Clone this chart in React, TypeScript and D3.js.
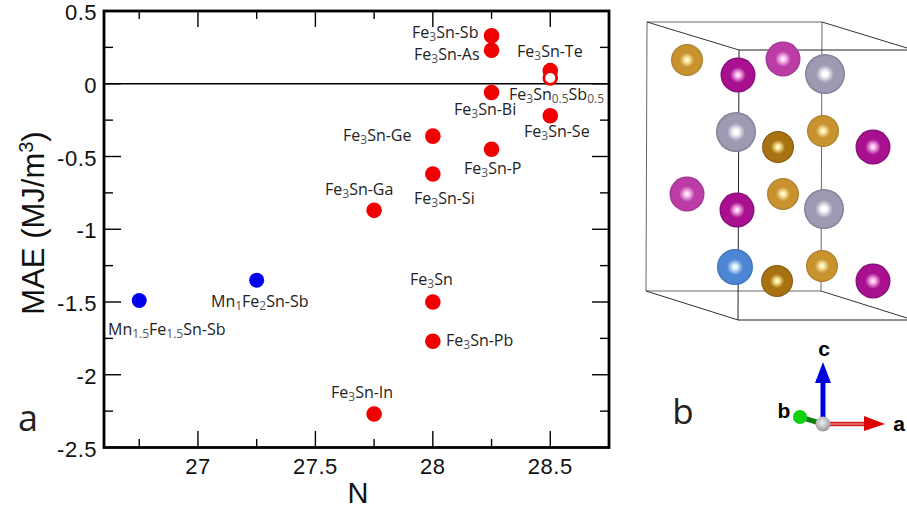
import React from "react";
import * as d3 from "d3";

const redN = [28.25, 28.25, 28.5, 28.5, 28.25, 28.5, 28, 28.25, 28, 27.75, 28, 28, 27.75];
const redMAE = [0.33, 0.23, 0.09, 0.04, -0.06, -0.22, -0.36, -0.45, -0.62, -0.87, -1.5, -1.77, -2.27];
const blueN = [26.75, 27.25];
const blueMAE = [-1.49, -1.35];
const xMajor = [27, 27.5, 28, 28.5];
const xMinor = [26.75, 27.25, 27.75, 28.25];
const yMajor = [0.5, 0, -0.5, -1, -1.5, -2, -2.5];
const yMinor = [0.25, -0.25, -0.75, -1.25, -1.75, -2.25];

// label: [text, sub, text, sub, ...] runs; odd entries are subscripts
const labels: { runs: string[]; x: number; y: number }[] = [
  { runs: ["Fe", "3", "Sn-Sb"], x: 412, y: 38 },
  { runs: ["Fe", "3", "Sn-As"], x: 414, y: 60 },
  { runs: ["Fe", "3", "Sn-Te"], x: 517, y: 57 },
  { runs: ["Fe", "3", "Sn", "0.5", "Sb", "0.5"], x: 509, y: 100 },
  { runs: ["Fe", "3", "Sn-Bi"], x: 454, y: 115 },
  { runs: ["Fe", "3", "Sn-Se"], x: 524, y: 137 },
  { runs: ["Fe", "3", "Sn-Ge"], x: 343, y: 141 },
  { runs: ["Fe", "3", "Sn-P"], x: 464, y: 174 },
  { runs: ["Fe", "3", "Sn-Si"], x: 414, y: 204 },
  { runs: ["Fe", "3", "Sn-Ga"], x: 325, y: 195 },
  { runs: ["Fe", "3", "Sn"], x: 410, y: 285 },
  { runs: ["Fe", "3", "Sn-Pb"], x: 446, y: 346 },
  { runs: ["Fe", "3", "Sn-In"], x: 331, y: 398 },
  { runs: ["Mn", "1", "Fe", "2", "Sn-Sb"], x: 211, y: 307 },
  { runs: ["Mn", "1.5", "Fe", "1.5", "Sn-Sb"], x: 108, y: 335 },
];

// crystal panel
const atoms: { x: number; y: number; r: number; c: string }[] = [
  { x: 687, y: 60, r: 16, c: "gold" },
  { x: 783, y: 59, r: 17.5, c: "pinkL" },
  { x: 738, y: 75, r: 17.5, c: "pink" },
  { x: 825, y: 74, r: 20, c: "gray" },
  { x: 736, y: 132, r: 20, c: "gray" },
  { x: 823, y: 131, r: 16, c: "gold" },
  { x: 778, y: 147, r: 16, c: "goldD" },
  { x: 873, y: 147, r: 17.5, c: "pink" },
  { x: 687, y: 194, r: 17.5, c: "pinkL" },
  { x: 783, y: 194, r: 16, c: "gold" },
  { x: 737, y: 210, r: 17.5, c: "pink" },
  { x: 824, y: 209, r: 20, c: "gray" },
  { x: 735, y: 267, r: 18, c: "blue" },
  { x: 822, y: 266, r: 16, c: "gold" },
  { x: 777, y: 281, r: 16, c: "goldD" },
  { x: 873, y: 281, r: 17.5, c: "pink" },
];
const atomColors: Record<string, [string, string, string]> = {
  gold: ["#fff2b0", "#c8922e", "#a07a30"],
  goldD: ["#fff0a0", "#a87210", "#7a5410"],
  pink: ["#ffc0f0", "#a8108f", "#7a0c70"],
  pinkL: ["#ffd0f4", "#bc3ca6", "#9a3490"],
  gray: ["#ffffff", "#9f99b3", "#7c778e"],
  blue: ["#e0f4ff", "#4c86d4", "#3a6eb4"],
};
const boxBack = "647,22 822,22 821,291 646,291";
const boxFront = "M907,50 L739,50 L738,320 L907,320";

const x = d3.scaleLinear().domain([26.6, 28.75]).range([104, 609]);
const y = d3.scaleLinear().domain([-2.5, 0.5]).range([447.5, 11]);
const sans = "'Liberation Sans', Arial, sans-serif";
const label = "'Open Sans', 'Noto Sans', sans-serif";

function Label({ runs, x: lx, y: ly }: { runs: string[]; x: number; y: number }) {
  return (
    <text x={lx} y={ly} fontFamily={label} fontSize={16} fill="#222">
      {runs.map((r, i) =>
        i % 2 === 1 ? (
          <tspan key={i} fontSize={12} dy={3} fill="#555">{r}</tspan>
        ) : (
          <tspan key={i} dy={i === 0 ? 0 : -3}>{r}</tspan>
        )
      )}
    </text>
  );
}

export default function App() {
  return (
    <svg width={907} height={508} style={{ position: "absolute", left: 0, top: 0, background: "#fff" }}>
      <defs>
        {Object.entries(atomColors).map(([k, [h, a, b]]) => (
          <radialGradient key={k} id={"g-" + k} cx="0.5" cy="0.5" r="0.5">
            <stop offset="0" stopColor="#fff" />
            <stop offset="0.12" stopColor={h} />
            <stop offset="0.45" stopColor={a} />
            <stop offset="0.88" stopColor={a} />
            <stop offset="1" stopColor={b} />
          </radialGradient>
        ))}
        <radialGradient id="g-origin" cx="0.45" cy="0.4" r="0.6">
          <stop offset="0" stopColor="#eee" />
          <stop offset="1" stopColor="#999" />
        </radialGradient>
      </defs>

      {/* axes */}
      <line x1={x.range()[0]} x2={x.range()[1]} y1={y(0)} y2={y(0)} stroke="#000" strokeWidth={1.6} />
      {xMajor.map((t) => (
        <g key={t}>
          <line x1={x(t)} x2={x(t)} y1={447} y2={431} stroke="#000" strokeWidth={1.4} />
          <line x1={x(t)} x2={x(t)} y1={11} y2={27} stroke="#000" strokeWidth={1.4} />
          <text x={x(t)} y={474} textAnchor="middle" fontFamily={sans} fontSize={22} letterSpacing={0.5} fill="#111">{t}</text>
        </g>
      ))}
      {xMinor.map((t) => (
        <g key={t}>
          <line x1={x(t)} x2={x(t)} y1={447} y2={439} stroke="#000" strokeWidth={1.4} />
          <line x1={x(t)} x2={x(t)} y1={11} y2={19} stroke="#000" strokeWidth={1.4} />
        </g>
      ))}
      {yMajor.map((t) => (
        <g key={t}>
          <line x1={104} x2={121} y1={y(t)} y2={y(t)} stroke="#000" strokeWidth={1.4} />
          <line x1={609} x2={592} y1={y(t)} y2={y(t)} stroke="#000" strokeWidth={1.4} />
          <text x={97} y={y(t) + 9} textAnchor="end" fontFamily={sans} fontSize={22} letterSpacing={0.5} fill="#111">{String(t)}</text>
        </g>
      ))}
      {yMinor.map((t) => (
        <g key={t}>
          <line x1={104} x2={113} y1={y(t)} y2={y(t)} stroke="#000" strokeWidth={1.4} />
          <line x1={609} x2={600} y1={y(t)} y2={y(t)} stroke="#000" strokeWidth={1.4} />
        </g>
      ))}
      <rect x={104} y={11} width={505} height={436.5} fill="none" stroke="#000" strokeWidth={2.8} />

      <text x={358} y={503} textAnchor="middle" fontFamily={sans} fontSize={29} fill="#111">N</text>
      <text transform="translate(44,223) rotate(-90)" textAnchor="middle" fontFamily={sans} fontSize={31} fill="#111">
        MAE (MJ/m<tspan fontSize={20} dy={-11}>3</tspan><tspan dy={11}>)</tspan>
      </text>
      <text x={18} y={431} fontFamily={label} fontSize={36} fill="#222">a</text>

      {/* points */}
      {redN.map((n, i) => (
        <circle key={i} cx={x(n)} cy={y(redMAE[i])} r={7.8} fill="#f00000" />
      ))}
      <circle cx={x(redN[3])} cy={y(redMAE[3])} r={5} fill="#fff" />
      {blueN.map((n, i) => (
        <circle key={i} cx={x(n)} cy={y(blueMAE[i])} r={7.5} fill="#0000ee" />
      ))}
      {labels.map((l, i) => (
        <Label key={i} {...l} />
      ))}

      {/* crystal */}
      <polygon points={boxBack} fill="none" stroke="#666" strokeWidth={1} />
      <line x1={647} y1={22} x2={739} y2={50} stroke="#333" />
      <line x1={822} y1={22} x2={907} y2={48} stroke="#333" />
      <line x1={646} y1={291} x2={738} y2={320} stroke="#333" />
      <line x1={821} y1={291} x2={907} y2={318} stroke="#333" />
      <path d={boxFront} fill="none" stroke="#222" strokeWidth={1} />
      {atoms.map((a, i) => (
        <circle key={i} cx={a.x} cy={a.y} r={a.r} fill={`url(#g-${a.c})`} />
      ))}

      {/* axes triad */}
      <line x1={823} y1={424} x2={823} y2={380} stroke="#0000dd" strokeWidth={5} />
      <polygon points="823,362 815,383 831,383" fill="#0000dd" />
      <line x1={823} y1={424} x2={866} y2={424} stroke="#d02020" strokeWidth={4.5} />
      <line x1={823} y1={424} x2={866} y2={424} stroke="#f4b0b0" strokeWidth={1} />
      <polygon points="885,424 864,416 864,431" fill="#dd0000" />
      <line x1={823} y1={424} x2={800} y2={417} stroke="#108010" strokeWidth={5} />
      <circle cx={800} cy={417} r={7} fill="#10d010" />
      <circle cx={823} cy={424} r={7.5} fill="url(#g-origin)" />
      <text x={824} y={356} textAnchor="middle" fontFamily={sans} fontWeight="bold" fontSize={21} fill="#000">c</text>
      <text x={784} y={418} textAnchor="middle" fontFamily={sans} fontWeight="bold" fontSize={21} fill="#000">b</text>
      <text x={899} y={431} textAnchor="middle" fontFamily={sans} fontWeight="bold" fontSize={21} fill="#000">a</text>
      <text x={683} y={424} textAnchor="middle" fontFamily={label} fontSize={35} fill="#222">b</text>
    </svg>
  );
}
